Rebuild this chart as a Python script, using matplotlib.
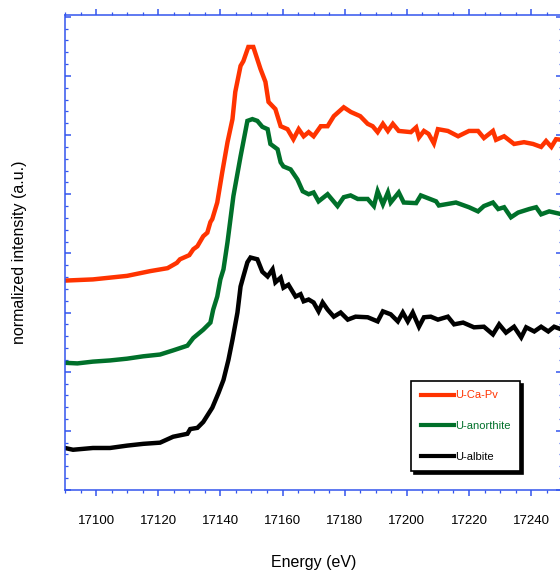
import numpy as np
import matplotlib
matplotlib.use('Agg')
import matplotlib.pyplot as plt
from matplotlib.ticker import MultipleLocator, NullFormatter

plt.rcParams['font.family'] = ['Liberation Sans', 'DejaVu Sans']

# --- data (energy in eV, intensity in a.u.) ---
e_capv = [17090, 17099, 17110, 17117.4, 17123, 17126, 17127, 17130, 17131.3, 17132.6,
          17134.5, 17135.8, 17136.8, 17137.4, 17139, 17140.6, 17142.3, 17143.9, 17144.8,
          17146.5, 17147.4, 17149, 17150.6, 17152.9, 17154.5, 17155.5, 17157.7, 17159.4,
          17161.6, 17163.5, 17165.2, 17166.8, 17168.4, 17170, 17172.3, 17174.5, 17176.5,
          17179.7, 17182, 17185, 17187.4, 17189, 17190.6, 17192.3, 17193.9, 17195.5,
          17197.4, 17201.3, 17203, 17203.9, 17205.5, 17207, 17208.7, 17210, 17213.2,
          17216.5, 17220, 17222.9, 17224.8, 17227.7, 17228.7, 17231.3, 17234.5, 17237.7,
          17240.6, 17243.2, 17244.8, 17246.5, 17248, 17250]
i_capv = [3.54, 3.56, 3.62, 3.70, 3.75, 3.84, 3.90, 3.97, 4.07, 4.12,
          4.29, 4.35, 4.53, 4.58, 4.86, 5.37, 5.88, 6.27, 6.73,
          7.17, 7.25, 7.49, 7.49, 7.12, 6.90, 6.56, 6.44, 6.15,
          6.10, 5.93, 6.10, 5.98, 6.05, 5.98, 6.15, 6.15, 6.32,
          6.47, 6.39, 6.32, 6.19, 6.15, 6.05, 6.19, 6.07, 6.19,
          6.07, 6.05, 6.13, 5.96, 6.07, 6.02, 5.86, 6.10, 6.07,
          5.98, 6.07, 6.07, 5.95, 6.07, 5.92, 5.98, 5.85, 5.88,
          5.85, 5.80, 5.90, 5.80, 5.93, 5.92]

e_anor = [17090, 17094, 17099, 17104.5, 17110, 17115.2, 17120.6, 17124.8, 17129.4, 17131.3,
          17134.5, 17136.8, 17137.7, 17139, 17140, 17141, 17142.3, 17144.2, 17146.5,
          17148.7, 17150.3, 17151.9, 17153.5, 17155.2, 17156.1, 17158.4, 17159.4, 17160.3,
          17162.6, 17164.8, 17166.5, 17168.4, 17170, 17171.6, 17174.5, 17177.7, 17179.7,
          17181.9, 17184.2, 17187.4, 17189.4, 17190.6, 17192.3, 17193.9, 17194.8, 17197.4,
          17199, 17203, 17204.5, 17209.4, 17210.3, 17215.8, 17220, 17222.9, 17224.8,
          17227.7, 17229.4, 17231.3, 17233.5, 17235.8, 17239.4, 17241.6, 17243.2, 17245.8,
          17250]
i_anor = [2.15, 2.14, 2.17, 2.19, 2.22, 2.26, 2.29, 2.36, 2.44, 2.57,
          2.71, 2.83, 3.05, 3.27, 3.56, 3.73, 4.19, 4.97, 5.64,
          6.24, 6.27, 6.24, 6.14, 6.10, 5.85, 5.76, 5.54, 5.47,
          5.42, 5.25, 5.05, 5.00, 5.03, 4.88, 5.00, 4.80, 4.95,
          4.98, 4.92, 4.92, 4.80, 5.05, 4.83, 5.03, 4.86, 5.03,
          4.86, 4.85, 4.98, 4.88, 4.81, 4.86, 4.78, 4.71, 4.80,
          4.86, 4.75, 4.78, 4.61, 4.69, 4.75, 4.78, 4.66, 4.71,
          4.66]

e_albi = [17090, 17092.6, 17099, 17104.5, 17110, 17115.2, 17120.6, 17124.8, 17129.4, 17130.3,
          17132.6, 17134.5, 17137.4, 17139.4, 17141, 17142.6, 17143.9, 17145.5, 17146.5,
          17147.4, 17148.7, 17149.7, 17151.9, 17153.5, 17155.2, 17156.8, 17157.7, 17159.4,
          17160.3, 17161.9, 17164.2, 17165.8, 17166.8, 17168.4, 17170, 17171.6, 17172.9,
          17174.5, 17176.5, 17178.7, 17181, 17183.5, 17187.4, 17190.6, 17192.3, 17194.8,
          17197.1, 17198.7, 17200.3, 17201.9, 17203.9, 17205.5, 17207.7, 17210, 17213.2,
          17215.2, 17218.1, 17221.6, 17224.8, 17227.7, 17229.7, 17231.9, 17234.5, 17236.8,
          17238.4, 17241, 17243.2, 17245.5, 17247.4, 17250]
i_albi = [0.71, 0.68, 0.71, 0.71, 0.75, 0.78, 0.80, 0.90, 0.95, 1.03,
          1.05, 1.15, 1.39, 1.64, 1.86, 2.20, 2.54, 3.00, 3.44,
          3.61, 3.85, 3.93, 3.90, 3.69, 3.61, 3.73, 3.51, 3.59,
          3.42, 3.47, 3.27, 3.31, 3.19, 3.22, 3.17, 3.02, 3.17,
          3.05, 2.93, 3.00, 2.88, 2.93, 2.92, 2.85, 3.02, 2.97,
          2.85, 3.00, 2.85, 3.00, 2.76, 2.92, 2.93, 2.88, 2.93,
          2.80, 2.83, 2.75, 2.76, 2.63, 2.80, 2.66, 2.76, 2.58,
          2.75, 2.68, 2.76, 2.68, 2.76, 2.71]

labels = ['U-Ca-Pv', 'U-anorthite', 'U-albite']
colors = ['#ff3300', '#00702a', '#000000']

# --- figure ---
fig = plt.figure(figsize=(5.6, 5.71), dpi=100)
ax = fig.add_axes([0.116, 0.1419, 0.888, 0.8318])

series = [(e_capv, i_capv), (e_anor, i_anor), (e_albi, i_albi)]
for (e, i), lab, c in zip(series, labels, colors):
    ax.plot(e, i, color=c, lw=3.2, label=lab, solid_joinstyle='miter')

ax.set_xlim(17090, 17250)
ax.set_ylim(0, 8.03)

ax.xaxis.set_major_locator(MultipleLocator(20))
ax.xaxis.set_minor_locator(MultipleLocator(5))
ax.yaxis.set_major_locator(MultipleLocator(1))
ax.yaxis.set_minor_locator(MultipleLocator(0.2))
ax.yaxis.set_major_formatter(NullFormatter())

spine_col = '#3355ee'
for s in ax.spines.values():
    s.set_color(spine_col)
    s.set_linewidth(1.1)

ax.tick_params(axis='x', which='both', direction='out', top=True, bottom=True,
               color=spine_col, labelsize=9.5, pad=14)
ax.tick_params(axis='x', which='major', length=4, width=1.1)
ax.tick_params(axis='x', which='minor', length=2.5, width=0.9)
ax.tick_params(axis='y', which='both', direction='in', left=True, right=True, color=spine_col)
ax.tick_params(axis='y', which='major', length=4.5, width=1.1)
ax.tick_params(axis='y', which='minor', length=2.5, width=0.9)

ax.set_xlabel('Energy (eV)', fontsize=11.5, labelpad=20)
ax.set_ylabel('normalized intensity (a.u.)', fontsize=11.5, labelpad=24)

leg = ax.legend(loc='lower left', bbox_to_anchor=(0.696, 0.04), fontsize=8,
                frameon=True, fancybox=False, shadow={'color': 'black', 'alpha': 1},
                edgecolor='black', labelcolor='linecolor', handlelength=3.0,
                handletextpad=0.15, labelspacing=1.85, borderpad=0.85, borderaxespad=0)
leg.get_frame().set_linewidth(1.2)
for line in leg.get_lines():
    line.set_linewidth(3)

fig.savefig('out.png', dpi=100)
